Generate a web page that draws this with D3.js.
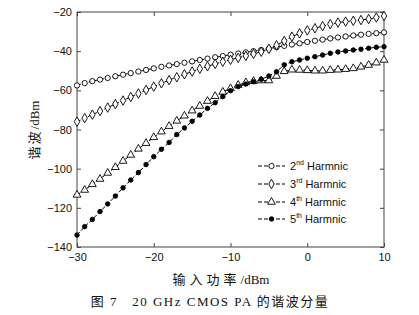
<!DOCTYPE html>
<html><head><meta charset="utf-8">
<script src="https://cdn.jsdelivr.net/npm/d3@7"></script>
<style>
body{margin:0;background:#fff;}
svg{display:block;}
</style></head>
<body>
<svg id="c" width="419" height="315"></svg>
<script>
const inputPower = [-30,-29,-28,-27,-26,-25,-24,-23,-22,-21,-20,-19,-18,-17,-16,-15,-14,-13,-12,-11,-10,-9,-8,-7,-6,-5,-4,-3,-2,-1,0,1,2,3,4,5,6,7,8,9,10];
const harm2 = [-57.5,-56.3,-55.3,-54.5,-53.7,-52.8,-52.0,-51.2,-50.4,-49.6,-48.8,-48.0,-47.3,-46.6,-45.9,-45.2,-44.5,-43.8,-43.1,-42.5,-41.8,-41.2,-40.6,-40.0,-39.4,-38.7,-38.0,-37.3,-36.6,-36.0,-35.3,-34.7,-34.1,-33.5,-33.0,-32.5,-32.0,-31.6,-31.2,-30.8,-30.4];
const harm3 = [-76.0,-74.2,-72.4,-70.6,-68.8,-67.0,-65.2,-63.4,-61.6,-59.8,-58.1,-56.4,-54.8,-53.3,-51.8,-50.4,-49.0,-47.7,-46.5,-45.4,-44.4,-43.4,-42.4,-41.4,-40.3,-38.8,-37.0,-34.8,-32.6,-30.9,-29.4,-28.3,-27.2,-26.2,-25.4,-24.9,-24.5,-24.1,-23.6,-22.8,-22.0];
const harm4 = [-113.4,-110.9,-108.0,-105.3,-102.2,-99.3,-96.1,-93.0,-89.9,-87.0,-84.0,-81.1,-78.3,-75.6,-73.0,-70.4,-68.0,-65.5,-63.0,-60.8,-59.0,-57.3,-56.0,-55.3,-55.0,-55.0,-52.7,-50.3,-49.5,-49.6,-49.8,-50.0,-50.0,-49.7,-49.5,-49.2,-48.8,-48.0,-47.1,-45.9,-44.5];
const harm5 = [-133.9,-129.6,-125.9,-121.9,-118.0,-114.0,-109.8,-105.8,-102.0,-97.9,-93.9,-90.1,-86.6,-82.6,-79.2,-75.8,-72.6,-69.2,-66.3,-63.2,-60.2,-58.1,-56.8,-55.6,-54.4,-52.7,-50.5,-47.0,-45.4,-44.5,-43.6,-42.8,-42.0,-41.1,-40.4,-39.9,-39.4,-39.0,-38.5,-38.0,-37.7];
const seriesOrdinals = ["2","3","4","5"];
const seriesSup = ["nd","rd","th","th"];
const seriesSuffix = "Harmnic";
const xTicks = [-30,-20,-10,0,10];
const yTicks = [-140,-120,-100,-80,-60,-40,-20];
const xTitleCJK = "输入功率", xTitleUnit = "/dBm";
const yTitleCJK = "谐波", yTitleUnit = "/dBm";
const caption = "图 7   20 GHz CMOS PA 的谐波分量";

const svg = d3.select("#c");
const L=77, R=384, T=12, B=247;
const x = d3.scaleLinear().domain([-30,10]).range([L,R]);
const y = d3.scaleLinear().domain([-140,-20]).range([B,T]);
const axisCol = "#444";
const tickFont = "'Liberation Sans', Arial, sans-serif";
const cjkFont = "'Liberation Serif','Noto Sans CJK SC',serif";

svg.append("rect").attr("x",L).attr("y",T).attr("width",R-L).attr("height",B-T)
  .attr("fill","none").attr("stroke",axisCol).attr("stroke-width",1);

function styleAxis(g){
  g.select(".domain").remove();
  g.selectAll("line").attr("stroke",axisCol);
  g.selectAll("text").attr("font-family",tickFont).attr("font-size",11).attr("fill","#111");
}
svg.append("g").attr("transform",`translate(0,${B})`)
  .call(d3.axisBottom(x).tickValues(xTicks).tickSizeInner(-4).tickSizeOuter(0).tickPadding(6).tickFormat(d3.format("d")))
  .call(styleAxis);
svg.append("g").attr("transform",`translate(0,${T})`)
  .call(d3.axisTop(x).tickValues(xTicks).tickSizeInner(-4).tickSizeOuter(0).tickFormat(""))
  .call(styleAxis);
svg.append("g").attr("transform",`translate(${L},0)`)
  .call(d3.axisLeft(y).tickValues(yTicks).tickSizeInner(-4).tickSizeOuter(0).tickPadding(5).tickFormat(d3.format("d")))
  .call(styleAxis);
svg.append("g").attr("transform",`translate(${R},0)`)
  .call(d3.axisRight(y).tickValues(yTicks).tickSizeInner(-4).tickSizeOuter(0).tickFormat(""))
  .call(styleAxis);

const series = [
  {vals:harm2, sym:d3.symbolCircle, size:22, fill:"#fff"},
  {vals:harm3, sym:d3.symbolDiamond, size:26, fill:"#fff"},
  {vals:harm4, sym:d3.symbolTriangle, size:26, fill:"#fff"},
  {vals:harm5, sym:d3.symbolCircle, size:16, fill:"#000"}
];
const line = d3.line().x(d=>x(d[0])).y(d=>y(d[1]));
series.forEach(s=>{
  const pts = inputPower.map((p,i)=>[p,s.vals[i]]);
  svg.append("path").attr("d",line(pts)).attr("fill","none").attr("stroke","#000")
    .attr("stroke-width",1).attr("stroke-dasharray","4,2");
  svg.append("g").selectAll("path").data(pts).join("path")
    .attr("transform",d=>`translate(${x(d[0])},${y(d[1])})`)
    .attr("d",d3.symbol().type(s.sym).size(s.size))
    .attr("fill",s.fill).attr("stroke","#000").attr("stroke-width",0.9);
});

const lg = svg.append("g");
const legY = [166,184,202,219];
series.forEach((s,i)=>{
  const g = lg.append("g").attr("transform",`translate(0,${legY[i]})`);
  g.append("line").attr("x1",258).attr("x2",285).attr("y1",0).attr("y2",0)
    .attr("stroke","#000").attr("stroke-width",1).attr("stroke-dasharray","4,2");
  g.append("path").attr("transform","translate(271.5,0)")
    .attr("d",d3.symbol().type(s.sym).size(s.size)).attr("fill",s.fill).attr("stroke","#000").attr("stroke-width",0.9);
  const t = g.append("text").attr("x",290).attr("y",4).attr("font-family",tickFont).attr("font-size",11).attr("fill","#111");
  t.append("tspan").text(seriesOrdinals[i]);
  t.append("tspan").attr("font-size",7).attr("dy",-5).text(seriesSup[i]);
  t.append("tspan").attr("dy",5).text(" "+seriesSuffix);
});

const xt = svg.append("text").attr("x",221).attr("y",284).attr("text-anchor","middle")
  .attr("font-family",cjkFont).attr("font-size",13).attr("fill","#111");
xt.append("tspan").attr("letter-spacing",4).text(xTitleCJK);
xt.append("tspan").text(xTitleUnit);
const yt = svg.append("text").attr("transform","translate(39,130) rotate(-90)").attr("text-anchor","middle")
  .attr("font-family",cjkFont).attr("font-size",13).attr("fill","#111");
yt.append("tspan").attr("letter-spacing",2).text(yTitleCJK);
yt.append("tspan").text(yTitleUnit);
svg.append("text").attr("x",210).attr("y",306).attr("text-anchor","middle")
  .attr("font-family",cjkFont).attr("font-size",13).attr("letter-spacing",1.5).attr("fill","#111")
  .attr("xml:space","preserve").style("white-space","pre").text(caption);
</script>
</body></html>
